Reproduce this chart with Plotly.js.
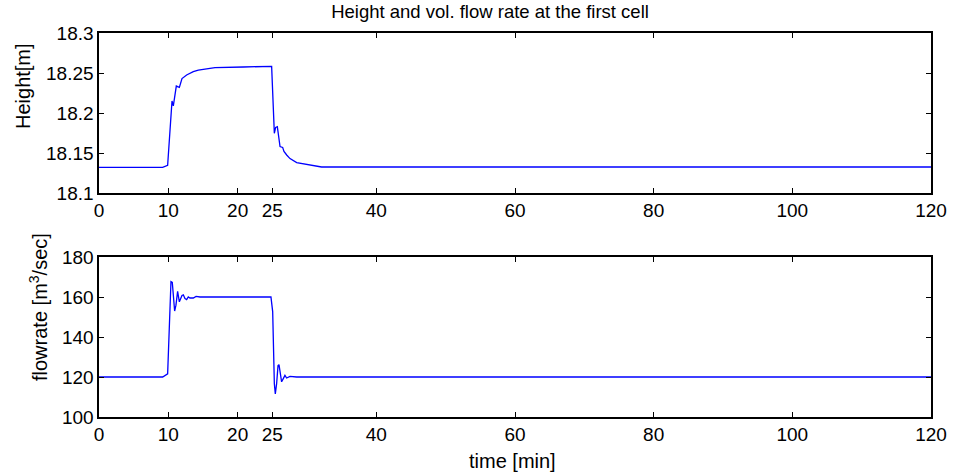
<!DOCTYPE html>
<html>
<head>
<meta charset="utf-8">
<script src="https://cdn.plot.ly/plotly-3.0.1.min.js"></script>
<style>html,body{margin:0;padding:0;background:#fff}#plot{width:954px;height:473px}</style>
</head>
<body>
<div id="plot"></div>
<script>
// Height at the first cell
const timeH = [0, 9.18, 9.9, 10.38, 10.53, 10.72, 10.96, 11.15, 11.59, 11.97, 12.64, 13.6, 14.33, 15.29, 16.73, 20.82, 24.66, 24.9,
  25.29, 25.48, 25.72, 25.87, 26.11, 26.49, 26.68, 27.07, 27.55, 28.51, 30.43, 32.1, 120];
const height = [18.132, 18.132, 18.1346, 18.207, 18.215, 18.209, 18.220, 18.2337, 18.232, 18.243, 18.2475, 18.2517, 18.2537, 18.255, 18.2567, 18.2575, 18.2583, 18.2583,
  18.1746, 18.182, 18.183, 18.1725, 18.158, 18.157, 18.152, 18.1475, 18.143, 18.138, 18.135, 18.1325, 18.1325];

// Volumetric flow rate at the first cell
const timeQ = [0, 9.18, 9.9, 10.38, 10.57, 10.72, 10.91, 11.1, 11.34, 11.59, 11.83, 11.97, 12.16, 12.4, 12.64, 12.88, 13.12, 13.6, 14.0, 14.57, 24.8,
  25.05, 25.29, 25.43, 25.62, 25.82, 25.96, 26.15, 26.34, 26.58, 26.82, 27.06, 27.55, 28.5, 120];
const flow = [120, 120, 121.6, 167.7, 167.3, 160.8, 153, 155.9, 162.8, 157.6, 159.2, 160.8, 161.1, 159.2, 158.7, 160, 159.5, 159.5, 160.3, 160, 160,
  152.7, 116.7, 111.5, 116.7, 125.7, 126.2, 121.6, 117.6, 119.2, 120.8, 119.5, 120.3, 120, 120];

const xTicks = [0, 10, 20, 25, 40, 60, 80, 100, 120];
const hTicks = [18.1, 18.15, 18.2, 18.25, 18.3];
const hTickText = ['18.1', '18.15', '18.2', '18.25', '18.3'];
const qTicks = [100, 120, 140, 160, 180];

const W = 954, H = 473;
const fam = 'Liberation Sans, Arial, sans-serif';
const tickFont = {family: fam, size: 19, color: '#000'};
const labelFont = {family: fam, size: 20, color: '#000'};
const titleFont = {family: fam, size: 18.5, color: '#000'};

function xAxis(anchor) {
  return {domain: [99 / W, 931 / W], range: [0, 120], tickvals: xTicks, ticktext: xTicks.map(String),
    ticks: 'inside', ticklen: 5, tickcolor: '#000', tickwidth: 1, showline: true, linecolor: '#000', linewidth: 1.6,
    mirror: 'ticks', showgrid: false, zeroline: false, anchor: anchor, tickfont: tickFont};
}
function yAxis(dom, range, vals, text, anchor) {
  return {domain: dom, range: range, tickvals: vals, ticktext: text,
    ticks: 'inside', ticklen: 5, tickcolor: '#000', tickwidth: 1, showline: true, linecolor: '#000', linewidth: 1.6,
    mirror: 'ticks', showgrid: false, zeroline: false, anchor: anchor, tickfont: tickFont};
}

const traces = [
  {x: timeH, y: height, type: 'scatter', mode: 'lines', line: {color: '#0000ff', width: 1.3}, xaxis: 'x', yaxis: 'y', hoverinfo: 'skip'},
  {x: timeQ, y: flow, type: 'scatter', mode: 'lines', line: {color: '#0000ff', width: 1.3}, xaxis: 'x2', yaxis: 'y2', hoverinfo: 'skip'}
];

const layout = {
  width: W, height: H, autosize: false,
  margin: {l: 0, r: 0, t: 0, b: 0},
  paper_bgcolor: '#fff', plot_bgcolor: '#fff',
  showlegend: false, font: tickFont,
  title: {text: 'Height and vol. flow rate at the first cell', font: titleFont, x: 490 / W, xanchor: 'center', xref: 'paper', y: 1 - 12 / H, yanchor: 'middle', yref: 'paper'},
  xaxis: xAxis('y'),
  yaxis: yAxis([1 - 193 / H, 1 - 33 / H], [18.1, 18.3], hTicks, hTickText, 'x'),
  xaxis2: xAxis('y2'),
  yaxis2: yAxis([1 - 417 / H, 1 - 257 / H], [100, 180], qTicks, qTicks.map(String), 'x2'),
  annotations: [
    {text: 'Height[m]', xref: 'paper', yref: 'paper', x: 23 / W, y: 1 - 86 / H, textangle: -90, showarrow: false, font: labelFont, xanchor: 'center', yanchor: 'middle'},
    {text: 'flowrate [m<sup>3</sup>/sec]', xref: 'paper', yref: 'paper', x: 38 / W, y: 1 - 307 / H, textangle: -90, showarrow: false, font: labelFont, xanchor: 'center', yanchor: 'middle'},
    {text: 'time [min]', xref: 'paper', yref: 'paper', x: 512 / W, y: 1 - 461 / H, showarrow: false, font: labelFont, xanchor: 'center', yanchor: 'middle'}
  ]
};

Plotly.newPlot('plot', traces, layout, {displayModeBar: false, staticPlot: true});
</script>
</body>
</html>
